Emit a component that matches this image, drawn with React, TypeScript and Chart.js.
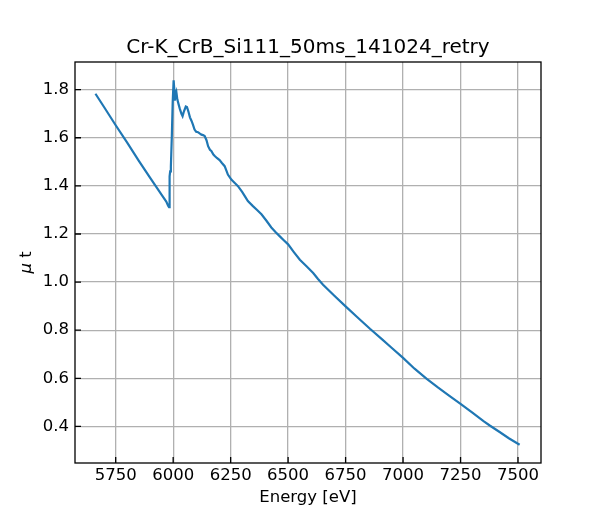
import { useEffect, useRef } from "react";
import { Chart, registerables } from "chart.js";

Chart.register(...registerables);

const TITLE = "Cr-K_CrB_Si111_50ms_141024_retry";

const ENERGY = [
  5662, 5700, 5750, 5800, 5850, 5900, 5950, 5970, 5978, 5982, 5984, 5985, 5987, 5990, 5994, 5998,
  6002, 6005, 6007, 6011, 6014, 6018, 6022, 6029, 6036, 6041, 6047, 6055, 6060, 6066, 6073, 6080,
  6086, 6093, 6100, 6108, 6115, 6123, 6130, 6137, 6145, 6152, 6160, 6166, 6175, 6181, 6190, 6202,
  6212, 6224, 6232, 6238, 6253, 6268, 6282, 6300, 6315, 6325, 6347, 6365, 6384, 6405, 6427, 6445,
  6464, 6480, 6500, 6525, 6551, 6580, 6609, 6630, 6652, 6700, 6750, 6800, 6856, 6909, 6950, 7000,
  7050, 7103, 7150, 7200, 7250, 7300, 7350, 7377, 7420, 7460, 7507,
];

const MU_T = [
  1.783, 1.727, 1.652, 1.58, 1.505, 1.433, 1.363, 1.335, 1.318, 1.312, 1.33, 1.44, 1.46, 1.48, 1.6, 1.75,
  1.839, 1.8, 1.755, 1.78, 1.79, 1.76, 1.745, 1.72, 1.7, 1.69, 1.71, 1.73, 1.728, 1.71, 1.685, 1.67,
  1.655, 1.634, 1.625, 1.623, 1.618, 1.613, 1.611, 1.607, 1.59, 1.565, 1.55, 1.545, 1.53, 1.524, 1.516, 1.507,
  1.495, 1.482, 1.462, 1.447, 1.426, 1.412, 1.399, 1.375, 1.352, 1.337, 1.316, 1.3, 1.282, 1.256, 1.227, 1.208,
  1.19, 1.175, 1.157, 1.125, 1.093, 1.066, 1.038, 1.013, 0.989, 0.944, 0.899, 0.855, 0.806, 0.762, 0.727, 0.685,
  0.64, 0.598, 0.563, 0.528, 0.494, 0.458, 0.422, 0.404, 0.377, 0.351, 0.324,
];

const X_TICKS = [5750, 6000, 6250, 6500, 6750, 7000, 7250, 7500];
const Y_TICKS = [0.4, 0.6, 0.8, 1.0, 1.2, 1.4, 1.6, 1.8];

const FONT = "DejaVu Sans";

// black box round the plot, short inward tick marks and the "μ t" label (italic mu)
const framePlugin = {
  id: "frame",
  afterDraw(chart: any) {
    const { ctx, chartArea: a, scales } = chart;
    ctx.save();
    ctx.strokeStyle = "#000";
    ctx.lineWidth = 1.3;
    ctx.beginPath();
    for (const v of X_TICKS) {
      const px = scales.x.getPixelForValue(v);
      ctx.moveTo(px, a.bottom);
      ctx.lineTo(px, a.bottom - 6);
    }
    for (const v of Y_TICKS) {
      const py = scales.y.getPixelForValue(v);
      ctx.moveTo(a.left, py);
      ctx.lineTo(a.left + 6, py);
    }
    ctx.stroke();
    ctx.strokeRect(a.left, a.top, a.right - a.left, a.bottom - a.top);

    // y axis label
    ctx.translate(27, (a.top + a.bottom) / 2);
    ctx.rotate(-Math.PI / 2);
    ctx.fillStyle = "#000";
    ctx.textBaseline = "middle";
    ctx.font = `italic 16.5px "${FONT}"`;
    const mu = "μ";
    const muW = ctx.measureText(mu).width;
    ctx.font = `16.5px "${FONT}"`;
    const rest = " t";
    const restW = ctx.measureText(rest).width;
    const x0 = -(muW + restW) / 2;
    ctx.font = `italic 16.5px "${FONT}"`;
    ctx.textAlign = "left";
    ctx.fillText(mu, x0, 0);
    ctx.font = `16.5px "${FONT}"`;
    ctx.fillText(rest, x0 + muW, 0);
    ctx.restore();
  },
};

export default function App() {
  const canvasRef = useRef<HTMLCanvasElement>(null);

  useEffect(() => {
    document.body.style.margin = "0";
    if (!canvasRef.current) return;
    Chart.defaults.font.family = FONT;
    Chart.defaults.color = "#000";

    const chart = new Chart(canvasRef.current, {
      type: "line",
      data: {
        datasets: [
          {
            data: ENERGY.map((e, i) => ({ x: e, y: MU_T[i] })),
            borderColor: "#1f77b4",
            borderWidth: 2.2,
            pointRadius: 0,
            tension: 0,
            fill: false,
          },
        ],
      },
      options: {
        responsive: false,
        animation: false,
        layout: { padding: { top: 30, right: 59, bottom: 0, left: 0 } },
        plugins: {
          legend: { display: false },
          tooltip: { enabled: false },
          title: {
            display: true,
            fullSize: false,
            text: TITLE,
            font: { size: 20, weight: "normal" },
            color: "#000",
            padding: { top: 6, bottom: 2 },
          },
        },
        scales: {
          x: {
            type: "linear",
            min: 5573,
            max: 7600,
            afterBuildTicks: (s: any) => {
              s.ticks = X_TICKS.map((v) => ({ value: v }));
            },
            afterFit: (s: any) => {
              s.height = 57;
            },
            ticks: {
              autoSkip: false,
              maxRotation: 0,
              padding: 3,
              font: { size: 16.5 },
              callback: (v: any) => String(v),
            },
            grid: { color: "#b0b0b0", lineWidth: 1.3, drawTicks: false },
            border: { display: false },
            title: {
              display: true,
              text: "Energy [eV]",
              font: { size: 16.5 },
              padding: { top: 0, bottom: 12 },
            },
          },
          y: {
            type: "linear",
            min: 0.248,
            max: 1.915,
            afterBuildTicks: (s: any) => {
              s.ticks = Y_TICKS.map((v) => ({ value: v }));
            },
            afterFit: (s: any) => {
              s.width = 75;
            },
            ticks: {
              padding: 6,
              font: { size: 16.5 },
              callback: (v: any) => Number(v).toFixed(1),
            },
            grid: { color: "#b0b0b0", lineWidth: 1.3, drawTicks: false },
            border: { display: false },
          },
        },
      },
      plugins: [framePlugin],
    });
    return () => chart.destroy();
  }, []);

  return <canvas ref={canvasRef} width={600} height={520} />;
}
